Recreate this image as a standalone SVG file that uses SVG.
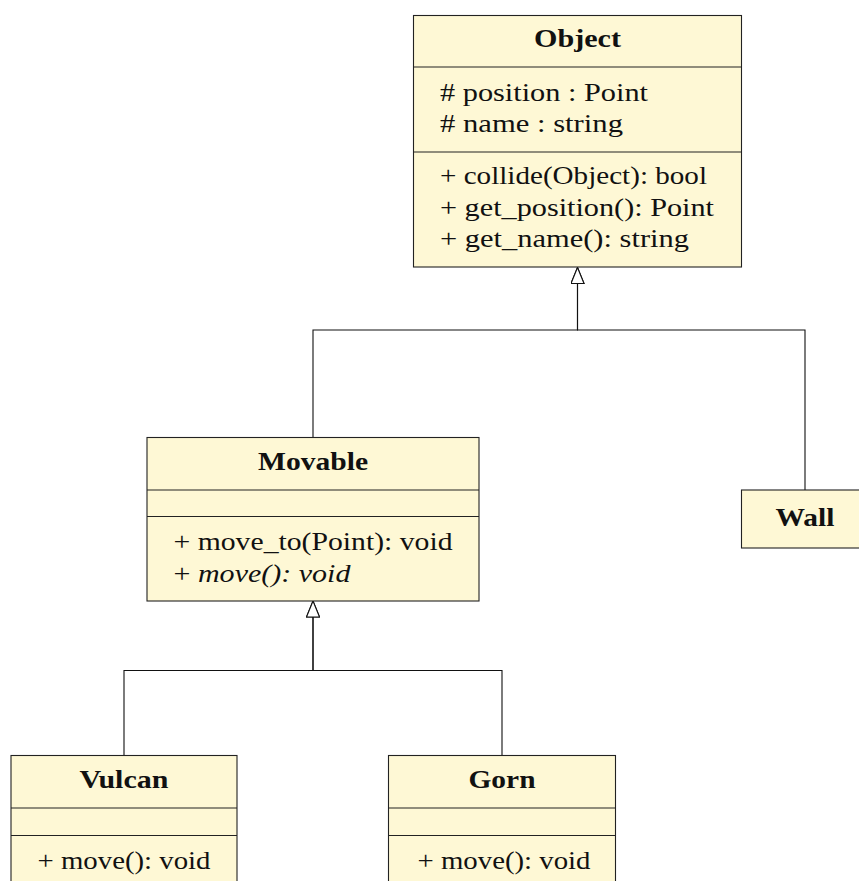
<svg xmlns="http://www.w3.org/2000/svg" width="859" height="881" viewBox="0 0 859 881">
<defs>
<style>
.box{fill:#fef8d5;stroke:#222;stroke-width:1.1}
.div{stroke:#222;stroke-width:1.1;fill:none}
.t{font-family:"Liberation Serif","Times New Roman",serif;font-size:26px;fill:#111}
.b{font-weight:bold;text-anchor:middle}
.i{font-style:italic}
.conn{fill:none;stroke:#111;stroke-width:1.1}
</style>
<marker id="inh" markerUnits="userSpaceOnUse" viewBox="0 0 17 14" refX="16.5" refY="7" markerWidth="17" markerHeight="14" orient="auto">
<path d="M0.5,0.5 L16.5,7 L0.5,13.5 Z" fill="#fff" stroke="#111" stroke-width="1.1"/>
</marker>
</defs>
<rect width="859" height="881" fill="#fff"/>
<g id="connectors">
<path class="conn" d="M313,437 V330 H577.5 V267.5" marker-end="url(#inh)"/>
<path class="conn" d="M805,490 V330 H577.5 V267.5" marker-end="url(#inh)"/>
<path class="conn" d="M124,755.5 V670.5 H313 V601" marker-end="url(#inh)"/>
<path class="conn" d="M502,755.5 V670.5 H313 V601" marker-end="url(#inh)"/>
</g>
<g id="Object">
<rect class="box" x="413.5" y="15.5" width="328" height="251.5"/>
<path class="div" d="M413.5,67 H741.5 M413.5,152 H741.5"/>
<text class="t b" x="577.5" y="47" textLength="87" lengthAdjust="spacingAndGlyphs">Object</text>
<text class="t" x="440" y="100.5" textLength="208" lengthAdjust="spacingAndGlyphs"># position : Point</text>
<text class="t" x="440" y="132" textLength="183" lengthAdjust="spacingAndGlyphs"># name : string</text>
<text class="t" x="440" y="184" textLength="267" lengthAdjust="spacingAndGlyphs">+ collide(Object): bool</text>
<text class="t" x="440" y="215.5" textLength="274" lengthAdjust="spacingAndGlyphs">+ get_position(): Point</text>
<text class="t" x="440" y="247" textLength="249" lengthAdjust="spacingAndGlyphs">+ get_name(): string</text>
</g>
<g id="Movable">
<rect class="box" x="147" y="437.5" width="332" height="163.5"/>
<path class="div" d="M147,490 H479 M147,516.5 H479"/>
<text class="t b" x="313" y="470" textLength="110" lengthAdjust="spacingAndGlyphs">Movable</text>
<text class="t" x="173.5" y="550" textLength="279" lengthAdjust="spacingAndGlyphs">+ move_to(Point): void</text>
<text class="t" x="173.5" y="581.5" textLength="177" lengthAdjust="spacingAndGlyphs">+ <tspan class="i">move(): void</tspan></text>
</g>
<g id="Wall">
<rect class="box" x="741.5" y="490" width="127" height="58"/>
<text class="t b" x="805" y="525.5" textLength="59" lengthAdjust="spacingAndGlyphs">Wall</text>
</g>
<g id="Vulcan">
<rect class="box" x="11" y="755.5" width="226" height="140"/>
<path class="div" d="M11,808 H237 M11,835.5 H237"/>
<text class="t b" x="124" y="788" textLength="89" lengthAdjust="spacingAndGlyphs">Vulcan</text>
<text class="t" x="37.5" y="868.5" textLength="173" lengthAdjust="spacingAndGlyphs">+ move(): void</text>
</g>
<g id="Gorn">
<rect class="box" x="388.5" y="755.5" width="227" height="140"/>
<path class="div" d="M388.5,808 H615.5 M388.5,835.5 H615.5"/>
<text class="t b" x="502" y="788" textLength="67" lengthAdjust="spacingAndGlyphs">Gorn</text>
<text class="t" x="417.5" y="868.5" textLength="173" lengthAdjust="spacingAndGlyphs">+ move(): void</text>
</g>
</svg>
